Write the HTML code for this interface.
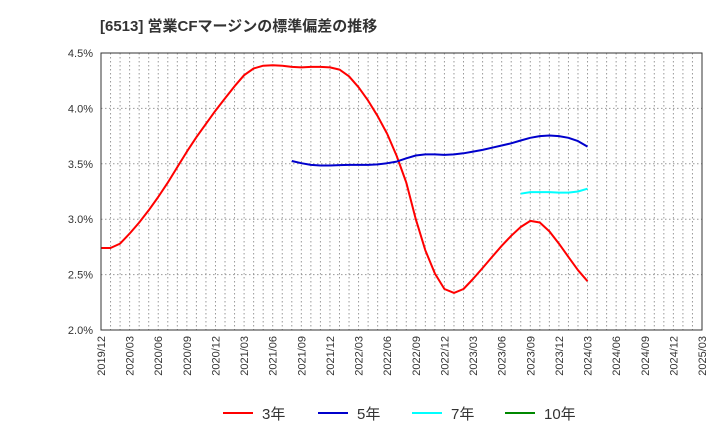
<!DOCTYPE html>
<html><head><meta charset="utf-8"><style>
body{margin:0;background:#fff;font-family:"Liberation Sans","Noto Sans CJK JP",sans-serif;}
</style></head><body>
<svg width="720" height="440" xmlns="http://www.w3.org/2000/svg" font-family="Liberation Sans, Noto Sans CJK JP, sans-serif">
<text x="100" y="31" font-size="15" font-weight="bold" fill="#333">[6513]  営業CFマージンの標準偏差の推移</text>
<g id="grid"></g><g id="axes"></g><g id="series"></g>
<rect x="101" y="53" width="601" height="277" fill="none" stroke="#333" stroke-width="1"/>
<g>
<line x1="223" y1="413" x2="253" y2="413" stroke="#f00" stroke-width="2"/><text x="262" y="419" font-size="15" fill="#333">3年</text>
<line x1="318" y1="413" x2="348" y2="413" stroke="#00c" stroke-width="2"/><text x="357" y="419" font-size="15" fill="#333">5年</text>
<line x1="412" y1="413" x2="442" y2="413" stroke="#0ff" stroke-width="2"/><text x="451" y="419" font-size="15" fill="#333">7年</text>
<line x1="505" y1="413" x2="535" y2="413" stroke="#080" stroke-width="2"/><text x="544" y="419" font-size="15" fill="#333">10年</text>
</g>
</svg>
<script>
const yTicks=[2.0,2.5,3.0,3.5,4.0,4.5];
const xLabels=["2019/12","2020/03","2020/06","2020/09","2020/12","2021/03","2021/06","2021/09","2021/12","2022/03","2022/06","2022/09","2022/12","2023/03","2023/06","2023/09","2023/12","2024/03","2024/06","2024/09","2024/12","2025/03"];
const s3Start=0;
const s3=[2.74,2.74,2.78,2.87,2.97,3.08,3.2,3.33,3.47,3.61,3.74,3.86,3.98,4.09,4.2,4.3,4.36,4.385,4.39,4.385,4.375,4.37,4.375,4.375,4.37,4.35,4.29,4.19,4.07,3.93,3.77,3.57,3.33,3.0,2.72,2.51,2.37,2.335,2.37,2.46,2.56,2.66,2.76,2.85,2.93,2.985,2.97,2.89,2.78,2.66,2.54,2.44];
const s5Start=20;
const s5=[3.525,3.505,3.49,3.485,3.485,3.488,3.49,3.49,3.49,3.495,3.505,3.52,3.55,3.575,3.585,3.585,3.58,3.585,3.595,3.61,3.625,3.645,3.665,3.685,3.71,3.735,3.75,3.755,3.75,3.735,3.705,3.655];
const s7Start=44;
const s7=[3.23,3.245,3.245,3.245,3.24,3.24,3.25,3.275];
const NS="http://www.w3.org/2000/svg";
const L=101,R=702,T=53,B=330,months=63;
const xS=m=>L+m*(R-L)/months;
const yS=v=>B-(v-2.0)/2.5*(B-T);
function mk(tag,attrs,parent){const e=document.createElementNS(NS,tag);for(const k in attrs)e.setAttribute(k,attrs[k]);parent.appendChild(e);return e;}
const grid=document.getElementById('grid'),axes=document.getElementById('axes'),ser=document.getElementById('series');
for(let m=1;m<months;m++){const l=mk('line',{x1:xS(m),x2:xS(m),y1:T,y2:B,stroke:'#999','stroke-dasharray':'1.5,2.5'},grid);

}
yTicks.forEach(v=>{const l=mk('line',{x1:L,x2:R,y1:yS(v),y2:yS(v),stroke:'#999','stroke-dasharray':'1.5,2.5'},grid);


const t=mk('text',{x:93,y:yS(v)+4,'font-size':11,fill:'#333','text-anchor':'end'},axes);t.textContent=v.toFixed(1)+'%';

});
xLabels.forEach((s,i)=>{const x=xS(i*3);const t=mk('text',{x:0,y:0,'font-size':11,fill:'#333','text-anchor':'end',transform:`translate(${x+4},336) rotate(-90)`},axes);t.textContent=s;

});
function line(arr,start,color,name){const d=arr.map((v,i)=>(i?'L':'M')+xS(start+i).toFixed(1)+','+yS(v).toFixed(1)).join('');
const p=mk('path',{d:d,fill:'none',stroke:color,'stroke-width':2,'stroke-linejoin':'round'},ser);

}
line(s3,s3Start,'#f00','series-3y');
line(s5,s5Start,'#00c','series-5y');
line(s7,s7Start,'#0ff','series-7y');
</script>
</body></html>
